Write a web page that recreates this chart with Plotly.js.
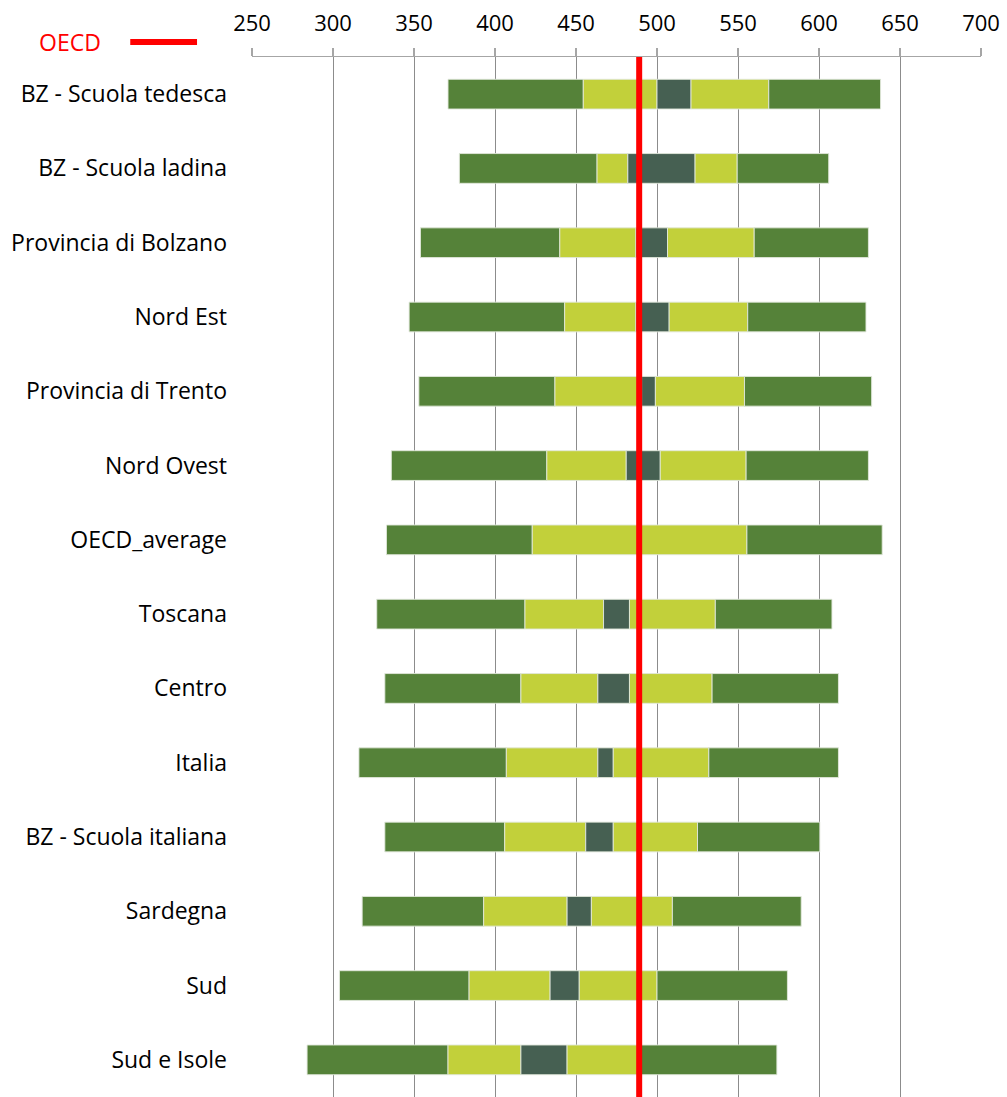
<!DOCTYPE html>
<html>
<head>
<meta charset="utf-8">
<script src="https://cdn.plot.ly/plotly-3.0.1.min.js"></script>
<style>html,body{margin:0;padding:0;background:#fff;}#chart{width:1007px;height:1097px;}</style>
</head>
<body>
<div id="chart"></div>
<script>
// Categories (top to bottom)
const categories = ["BZ - Scuola tedesca","BZ - Scuola ladina","Provincia di Bolzano","Nord Est","Provincia di Trento","Nord Ovest","OECD_average","Toscana","Centro","Italia","BZ - Scuola italiana","Sardegna","Sud","Sud e Isole"];
// Percentiles and mean confidence interval
const p5     = [371, 378, 354, 347, 353, 336, 333, 327, 332, 316, 332, 318, 304, 284];
const p25    = [454.5, 463, 440, 443, 437, 432, 423, 418.5, 416, 407, 406, 393, 384, 371];
const ciLow  = [500, 482, 487, 487, 490.5, 481, 488, 467, 463.5, 463.5, 456, 444.5, 434, 416];
const ciHigh = [521, 523.5, 506.5, 507.5, 499, 502, 490, 483, 483, 473, 473, 459.5, 452, 444.5];
const p75    = [569, 549.5, 560, 556, 554, 555, 555.5, 536, 534, 532, 525, 509.5, 500, 488];
const p95    = [638, 606, 630.5, 629, 632.5, 630.5, 639, 608, 612, 612, 600.5, 589, 580.5, 574];
const oecdMean = 489;
const xTicks = [250, 300, 350, 400, 450, 500, 550, 600, 650, 700];

const darkGreen = "#558239", lightGreen = "#c2d03a", slate = "#466052";
const edge = {color: "rgba(225,232,220,0.9)", width: 1};

function seg(from, to, color, name) {
  return {
    type: "bar", orientation: "h", name: name,
    y: categories,
    base: from,
    x: from.map((v, i) => to[i] - v),
    marker: {color: color, line: edge},
    width: 0.4,
    showlegend: false,
    hoverinfo: "skip"
  };
}

const traces = [
  seg(p5, p25, darkGreen, "5-25"),
  seg(p25, ciLow, lightGreen, "25-mean"),
  seg(ciLow, ciHigh, slate, "mean CI"),
  seg(ciHigh, p75, lightGreen, "mean-75"),
  seg(p75, p95, darkGreen, "75-95")
];

const font = "Open Sans, Noto Sans, sans-serif";

const layout = {
  width: 1007, height: 1097,
  margin: {l: 252, r: 26, t: 57, b: 0, pad: 0},
  paper_bgcolor: "#fff", plot_bgcolor: "#fff",
  barmode: "overlay",
  showlegend: false,
  font: {family: font, size: 23, color: "#000"},
  xaxis: {
    side: "top", range: [250, 700], tickvals: xTicks, ticktext: xTicks.map(String),
    showgrid: true, gridcolor: "#8c8c8c", gridwidth: 1,
    showline: true, linecolor: "#a6a6a6", linewidth: 1.5,
    ticks: "outside", ticklen: 8, tickcolor: "#a6a6a6", tickwidth: 1.5,
    ticklabelstandoff: 8,
    zeroline: false, fixedrange: true,
    tickfont: {family: font, size: 22, color: "#000"}
  },
  yaxis: {
    type: "category", autorange: false, range: [13.5, -0.5],
    showgrid: false, showline: false, ticks: "",
    ticklabelstandoff: 24,
    tickfont: {family: font, size: 23, color: "#000"},
    fixedrange: true
  },
  shapes: [
    {type: "line", xref: "x", yref: "paper", x0: oecdMean, x1: oecdMean, y0: 0, y1: 1,
     line: {color: "#ff0000", width: 6}},
    {type: "line", xref: "paper", yref: "paper", x0: -0.167, x1: -0.0754, y0: 1.0144, y1: 1.0144,
     line: {color: "#ff0000", width: 6}}
  ],
  annotations: [
    {xref: "paper", yref: "paper", x: -0.2495, y: 1.0144, xanchor: "center", yanchor: "middle",
     text: "OECD", showarrow: false, font: {family: font, size: 23, color: "#ff0000"}}
  ]
};

Plotly.newPlot("chart", traces, layout, {displayModeBar: false, staticPlot: true});
</script>
</body>
</html>
